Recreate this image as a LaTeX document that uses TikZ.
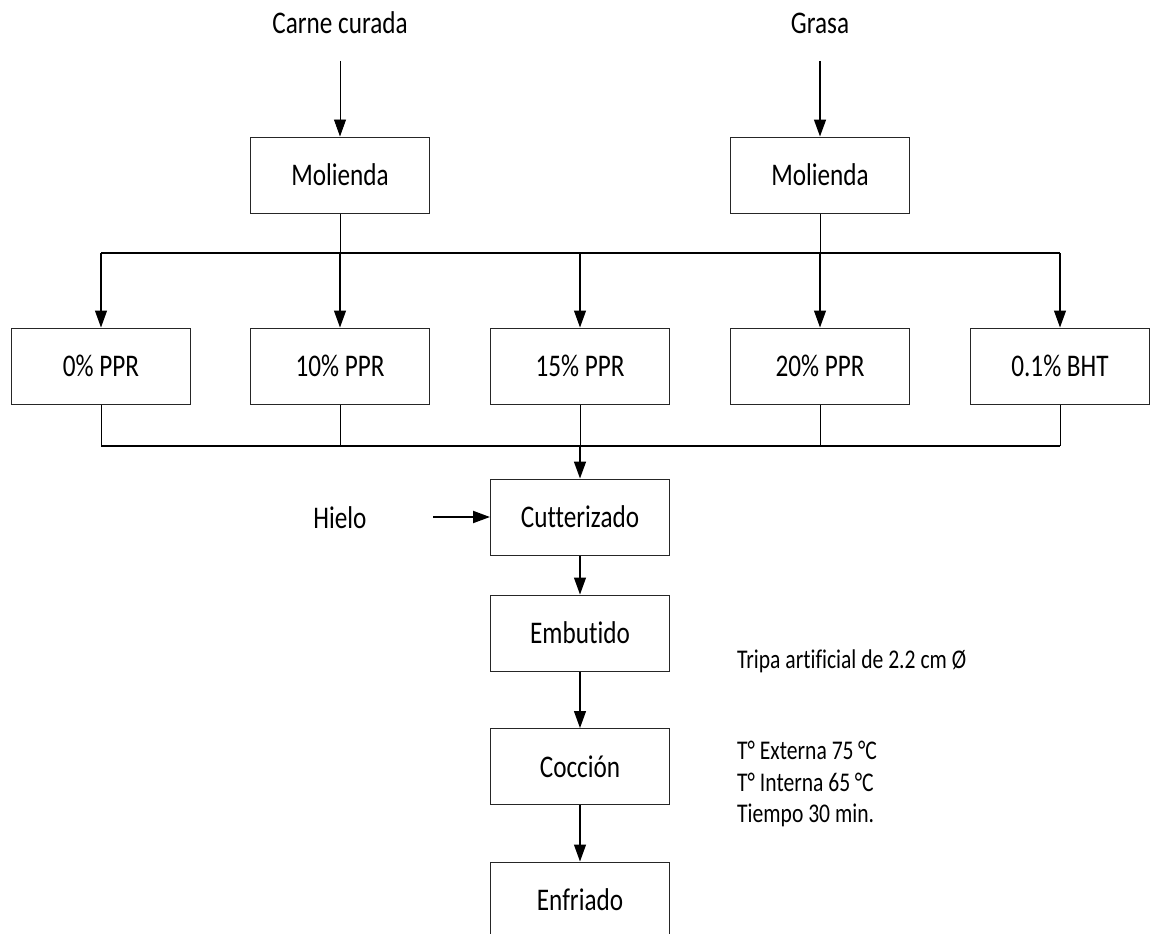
\documentclass[tikz,border=0pt]{standalone}
\usepackage{fontspec}
\setmainfont{Carlito}[FakeStretch=0.8,Ligatures=NoCommon]
\usetikzlibrary{arrows.meta}
\begin{document}
\begin{tikzpicture}[x=1pt,y=1pt,
  box/.style={draw=black!85,line width=1pt,minimum width=179pt,minimum height=76pt,inner sep=0pt,font=\fontsize{31.5}{34}\selectfont},
  lbl/.style={inner sep=0pt,font=\fontsize{31.5}{34}\selectfont},
  note/.style={inner sep=0pt,align=left,font=\fontsize{27}{31.5}\selectfont},
  conn/.style={line width=1pt},
  arr/.style={line width=1.2pt,-{Triangle[length=17pt,width=12pt]}},
  bus/.style={line width=2pt}]
\useasboundingbox (0,0) rectangle (1151,-934);
\clip (0,0) rectangle (1151,-934);
% inputs
\node[lbl] (carne) at (340,-23) {Carne curada};
\node[lbl] (grasa) at (820,-23) {Grasa};
\coordinate (carneS) at (340,-61);
\coordinate (grasaS) at (820,-61);
% grinding
\node[box] (molA) at (340,-175) {Molienda};
\node[box] (molB) at (820,-175) {Molienda};
\draw[arr,line width=0.9pt] (carneS) -- (molA.north);
\draw[arr,line width=1.5pt] (grasaS) -- (molB.north);
% treatments
\node[box] (p0) at (101,-366) {0\% PPR};
\node[box] (p10) at (340,-366) {10\% PPR};
\node[box] (p15) at (580,-366) {15\% PPR};
\node[box] (p20) at (820,-366) {20\% PPR};
\node[box] (bht) at (1060,-366) {0.1\% BHT};
% upper bus
\coordinate (ub0) at (101,-253);
\coordinate (ub10) at (340,-253);
\coordinate (ub15) at (580,-253);
\coordinate (ub20) at (820,-253);
\coordinate (ubB) at (1060,-253);
\draw[conn] (molA.south) -- (ub10);
\draw[conn] (molB.south) -- (ub20);
\draw[bus] (ub0) -- (ubB);
\foreach \s/\t in {ub0/p0,ub10/p10,ub15/p15,ub20/p20,ubB/bht}
  \draw[arr] (\s) -- (\t.north);
% lower bus
\coordinate (lb0) at (101,-446);
\coordinate (lb10) at (340,-446);
\coordinate (lb15) at (580,-446);
\coordinate (lb20) at (820,-446);
\coordinate (lbB) at (1060,-446);
\foreach \s/\t in {p0/lb0,p10/lb10,p15/lb15,p20/lb20,bht/lbB}
  \draw[conn] (\s.south) -- (\t);
\draw[bus] (lb0) -- (lbB);
% process chain
\node[box] (cut) at (580,-517) {Cutterizado};
\node[box] (emb) at (580,-633) {Embutido};
\node[box] (coc) at (580,-766.5) {Cocción};
\node[box] (enf) at (580,-900) {Enfriado};
\draw[arr,line width=1.6pt] (lb15) -- (cut.north);
\draw[arr] (cut.south) -- (emb.north);
\draw[arr] (emb.south) -- (coc.north);
\draw[arr] (coc.south) -- (enf.north);
% ice
\node[lbl] (hielo) at (340,-518) {Hielo};
\coordinate (hieloE) at (433,-517);
\draw[arr,line width=2pt] (hieloE) -- (cut.west);
% notes
\node[note,anchor=west] (tripa) at (737,-661) {Tripa artificial de 2.2 cm Ø};
\node[note,anchor=west] (cond) at (737,-784) {T° Externa 75\,°C\\T° Interna 65\,°C\\Tiempo 30 min.};
\end{tikzpicture}
\end{document}
